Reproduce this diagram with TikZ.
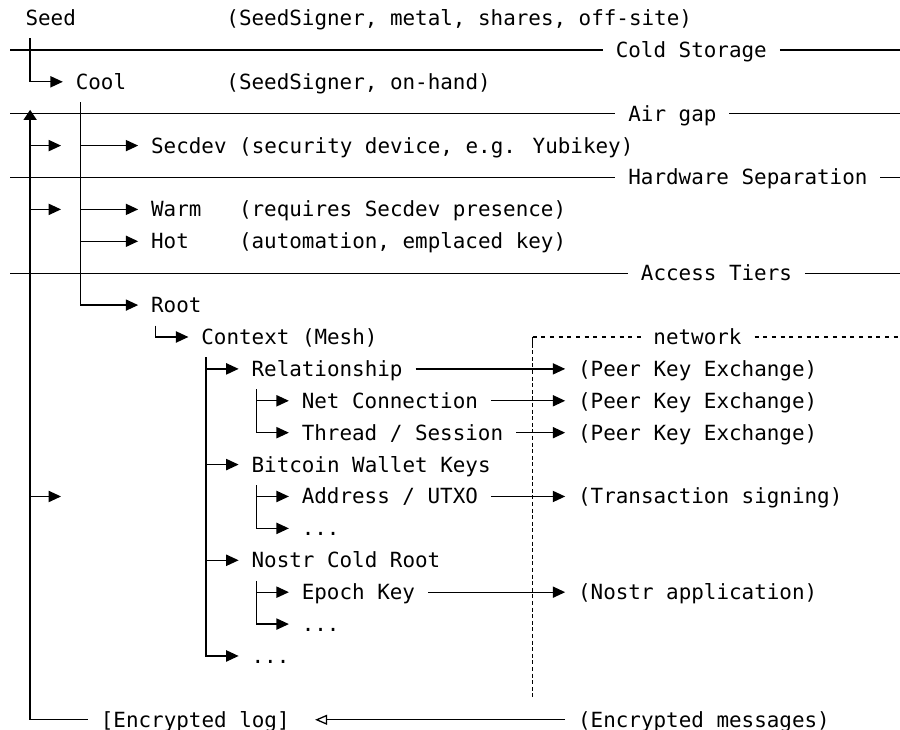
\documentclass[tikz,border=0pt]{standalone}
\usepackage{fontspec}
\newfontfamily\dejamono{DejaVu Sans Mono}
\usetikzlibrary{arrows.meta}
\tikzstyle{lbl}=[anchor=west,inner xsep=6.28pt,inner ysep=0pt,text height=7.5pt,text depth=0pt,font=\dejamono\fontsize{10.45}{12}\selectfont]
\tikzstyle{rul}=[line width=0.65pt]
\tikzstyle{arr}=[-{Triangle[length=6.2pt,width=5.6pt]},line width=0.65pt]
\tikzstyle{br}=[arr,shorten <=6.3pt]
\tikzstyle{up}=[-{Triangle[length=5pt,width=6.5pt]},line width=0.65pt]
\tikzstyle{back}=[-{Triangle[open,length=6pt,width=5pt]},line width=0.65pt,shorten >=6.28pt]
\tikzstyle{dsh}=[line width=0.6pt,dash pattern=on 2pt off 2.35pt]
\tikzstyle{dot}=[line width=0.6pt,dash pattern=on 2pt off 1.3pt]

\begin{document}
\begin{tikzpicture}[x=6.28pt,y=-15.95pt]
\useasboundingbox (0,0.4357) rectangle (71.66,23.32);
\coordinate (L) at (0.8,0);
\coordinate (R) at (71.66,0);
\node[lbl] (seed) at (1,1) {Seed};
\node[lbl] (seedn) at (17,1) {(SeedSigner, metal, shares, off-site)};
\node[lbl] (cold) at (48,2) {Cold Storage};
\node[lbl] (cool) at (5,3) {Cool};
\node[lbl] (cooln) at (17,3) {(SeedSigner, on-hand)};
\node[lbl] (air) at (49,4) {Air gap};
\node[lbl] (secdev) at (11,5) {Secdev (security device, e.g. Yubikey)};
\node[lbl] (hw) at (49,6) {Hardware Separation};
\node[lbl] (warm) at (11,7) {Warm};
\node[lbl] (warmn) at (18,7) {(requires Secdev presence)};
\node[lbl] (hot) at (11,8) {Hot};
\node[lbl] (hotn) at (18,8) {(automation, emplaced key)};
\node[lbl] (tiers) at (50,9) {Access Tiers};
\node[lbl] (root) at (11,10) {Root};
\node[lbl] (ctx) at (15,11) {Context (Mesh)};
\node[lbl] (netw) at (51,11) {network};
\node[lbl] (rel) at (19,12) {Relationship};
\node[lbl] (net) at (23,13) {Net Connection};
\node[lbl] (thread) at (23,14) {Thread / Session};
\node[lbl] (btc) at (19,15) {Bitcoin Wallet Keys};
\node[lbl] (utxo) at (23,16) {Address / UTXO};
\node[lbl] (btcm) at (23,17) {...};
\node[lbl] (nostr) at (19,18) {Nostr Cold Root};
\node[lbl] (epoch) at (23,19) {Epoch Key};
\node[lbl] (nostrm) at (23,20) {...};
\node[lbl] (ctxm) at (19,21) {...};
\node[lbl] (log) at (7,23) {[Encrypted log]};
\node[lbl] (peerA) at (45,12) {(Peer Key Exchange)};
\node[lbl] (peerB) at (45,13) {(Peer Key Exchange)};
\node[lbl] (peerC) at (45,14) {(Peer Key Exchange)};
\node[lbl] (txs) at (45,16) {(Transaction signing)};
\node[lbl] (napp) at (45,19) {(Nostr application)};
\node[lbl] (msgs) at (45,23) {(Encrypted messages)};

\foreach \t in {cold,air,hw,tiers}
  \draw[rul] (L |- \t) -- (\t) -- (\t -| R);

\coordinate (nc) at (42.4,11);
\coordinate (nb) at (42.4,22.3);
\draw[dsh] (nc) -- (netw) -- (netw -| R);
\draw[rul] (nc) -- ++(0,0.35);
\draw[dot] (nc) -- (nb);

\draw[br] ([xshift=8.79pt]seed.south west) |- (cool);
\draw[br] ([xshift=8.79pt]cool.south west) coordinate (kc) |- (root);
\foreach \c in {secdev,warm,hot}
  \draw[arr] (kc |- \c) -- (\c);
\draw[br] ([xshift=8.79pt]root.south west) |- (ctx);
\draw[br] ([xshift=8.79pt]ctx.south west) coordinate (kx) |- (ctxm);
\foreach \c in {rel,btc,nostr}
  \draw[arr] (kx |- \c) -- (\c);
\draw[br] ([xshift=8.79pt]rel.south west) coordinate (kr) |- (thread);
\draw[arr] (kr |- net) -- (net);
\draw[br] ([xshift=8.79pt]btc.south west) coordinate (kb) |- (btcm);
\draw[arr] (kb |- utxo) -- (utxo);
\draw[br] ([xshift=8.79pt]nostr.south west) coordinate (kn) |- (nostrm);
\draw[arr] (kn |- epoch) -- (epoch);

\draw[arr] (rel) -- (peerA);
\draw[arr] (net) -- (peerB);
\draw[arr] (thread) -- (peerC);
\draw[arr] (utxo) -- (txs);
\draw[arr] (epoch) -- (napp);

\coordinate (gap) at (2.4,3.88);
\draw[up] (log.west) -| (gap);
\foreach \r in {5,7,16}{
  \coordinate (tap\r) at (2.4,\r);
  \draw[arr] (tap\r) -- ++(2.46,0);
}
\draw[back] (msgs) -- (log);
\end{tikzpicture}
\end{document}
